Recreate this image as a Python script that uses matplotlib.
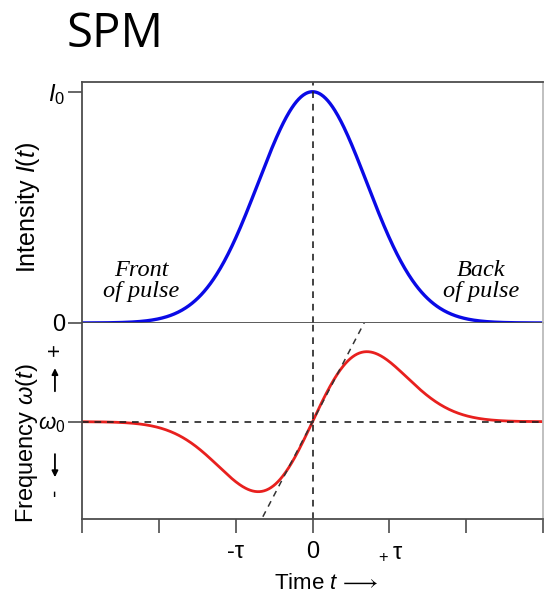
import matplotlib.pyplot as plt
import numpy as np
from matplotlib.patches import FancyArrowPatch

plt.rcParams['font.family'] = ['Liberation Sans', 'DejaVu Sans']
plt.rcParams['mathtext.fontset'] = 'custom'
plt.rcParams['mathtext.rm'] = 'Liberation Sans'
plt.rcParams['mathtext.it'] = 'Liberation Sans:italic'

# time axis in units of tau
t = np.linspace(-3, 3, 601)
tick_pos = [-3, -2, -1, 0, 1, 2, 3]
tick_labels = ['', '', '-\u03c4', '0', '$_+$\u03c4', '', '']

# pulse: I(t) = I0 exp(-t^2/tau^2), chirp ~ -dI/dt
intensity = np.exp(-t ** 2)
chirp = t * np.exp(-t ** 2)
chirp = chirp / chirp.max()
tangent_slope = 2.1  # dashed tangent through t = 0

gray = '#4d4d4d'
dash = (0, (4, 3.5))
fig = plt.figure(figsize=(5.44, 5.97), dpi=100)

fig.text(0.122, 0.943, 'SPM', fontsize=34, family='Open Sans', va='center', ha='left')

# top panel: intensity
ax1 = fig.add_axes([0.151, 0.459, 0.847, 0.404])
ax1.plot(t, intensity, color='#0a0ae6', lw=2.4)
ax1.axvline(0, color='#222222', ls=dash, lw=1.2)
ax1.set_xlim(-3, 3)
ax1.set_ylim(0, 1.043)
ax1.set_xticks([])
ax1.set_yticks([0, 1])
ax1.set_yticklabels(['0', '$I_0$'], fontsize=17)
ax1.tick_params(axis='y', length=10, width=1.2, color=gray, pad=2)
for s in ax1.spines.values():
    s.set_color(gray)
    s.set_linewidth(1.3)
ax1.spines['right'].set_color('#bbbbbb')
ax1.text(-2.23, 0.18, 'Front\nof pulse', fontsize=17.5, family='Liberation Serif',
         style='italic', ha='center', va='center', linespacing=1.0)
ax1.text(2.19, 0.18, 'Back\nof pulse', fontsize=17.5, family='Liberation Serif',
         style='italic', ha='center', va='center', linespacing=1.0)

# bottom panel: instantaneous frequency
ax2 = fig.add_axes([0.151, 0.1307, 0.847, 0.3283])
ax2.plot(t, chirp, color='#e8201e', lw=2.0)
ax2.axhline(0, color='#222222', ls=dash, lw=1.2)
ax2.axvline(0, color='#222222', ls=dash, lw=1.2)
ax2.plot(t, tangent_slope * t, color='#333333', ls=dash, lw=1.1)
ax2.set_xlim(-3, 3)
ax2.set_ylim(-1.39, 1.41)
ax2.set_xticks(tick_pos)
ax2.set_xticklabels(tick_labels, fontsize=17)
ax2.set_yticks([0])
ax2.set_yticklabels(['$\\omega_0$'], fontsize=16)
ax2.tick_params(axis='x', length=10, width=1.2, color=gray, pad=6)
ax2.tick_params(axis='y', length=10, width=1.2, color=gray, pad=2)
for s in ax2.spines.values():
    s.set_color(gray)
    s.set_linewidth(1.3)
ax2.spines['top'].set_visible(False)
ax2.spines['right'].set_color('#bbbbbb')

fig.text(0.052, 0.653, 'Intensity $I(t)$', rotation=90, fontsize=18, ha='center', va='center')
fig.text(0.049, 0.258, 'Frequency $\\omega(t)$', rotation=90, fontsize=17, ha='center', va='center')
fig.text(0.101, 0.415, '+', rotation=90, fontsize=16, ha='center', va='center')
fig.text(0.101, 0.176, '-', rotation=90, fontsize=16, ha='center', va='center')
arrow = dict(arrowstyle='-|>', color='black', lw=1.3, mutation_scale=9)
fig.add_artist(FancyArrowPatch((0.101, 0.340), (0.101, 0.388),
               transform=fig.transFigure, **arrow))
fig.add_artist(FancyArrowPatch((0.101, 0.244), (0.101, 0.196),
               transform=fig.transFigure, **arrow))
fig.text(0.6, 0.023, 'Time $t\\,\\longrightarrow$', fontsize=16, ha='center', va='center')

fig.savefig('out.png', dpi=100)
